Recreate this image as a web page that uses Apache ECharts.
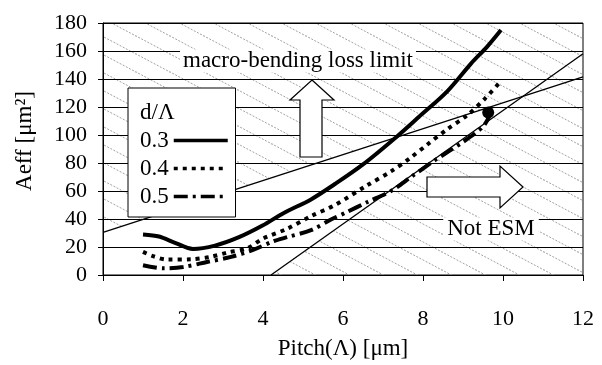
<!DOCTYPE html>
<html>
<head>
<meta charset="utf-8">
<script src="https://cdn.jsdelivr.net/npm/echarts@6/dist/echarts.min.js"></script>
<style>
html,body{margin:0;padding:0;background:#fff;}
#chart{width:602px;height:365px;}
</style>
</head>
<body>
<div id="chart"></div>
<script>
// ---- data ----
const xTicks = [0, 2, 4, 6, 8, 10, 12];
const yTicks = [0, 20, 40, 60, 80, 100, 120, 140, 160, 180];
const seriesNames = ['0.3', '0.4', '0.5'];

const pitch03 = [1.0, 1.4, 1.8, 2.25, 2.8, 3.4, 4.0, 4.5, 5.2, 5.8, 6.5, 7.35, 7.9, 8.6, 9.2, 9.6, 9.95];
const aeff03  = [29, 27.5, 23, 18.6, 21, 27, 35.5, 44, 54, 65, 79, 99, 113, 131, 151, 163, 175];

const pitch04 = [1.0, 1.25, 1.6, 2.2, 2.7, 3.1, 3.6, 4.0, 4.6, 5.2, 5.8, 6.6, 7.2, 7.7, 8.1, 8.6, 9.1, 9.55, 9.9];
const aeff04  = [16.5, 13.5, 11, 11.2, 13, 16, 19, 26, 33, 42, 50, 64, 74, 84, 93, 104, 114, 126, 137];

const pitch05 = [1.0, 1.5, 2.0, 2.6, 3.2, 3.75, 4.25, 4.6, 5.2, 5.7, 6.1, 6.6, 7.2, 7.7, 8.3, 9.0, 9.5, 9.65];
const aeff05  = [7, 4.8, 5.7, 9.3, 12.9, 17.9, 24, 27, 32, 39.6, 45, 52, 60, 70, 82, 95, 106, 113];

// limit lines
const macroX = [0, 12];
const macroY = [30.5, 141.5];
const esmX = [4.2, 12];
const esmY = [0, 158];
// marked point
const markX = [9.63];
const markY = [116];

// ---- helpers ----
const zip = (xs, ys) => xs.map((x, i) => [x, ys[i]]);
const FONT = '"Liberation Serif", "Times New Roman", serif';

function intersect() {
  const m1 = (macroY[1] - macroY[0]) / (macroX[1] - macroX[0]);
  const b1 = macroY[0] - m1 * macroX[0];
  const m2 = (esmY[1] - esmY[0]) / (esmX[1] - esmX[0]);
  const b2 = esmY[0] - m2 * esmX[0];
  const x = (b2 - b1) / (m1 - m2);
  return [x, m1 * x + b1];
}
const P = intersect();
const hatchPoly = [
  [macroX[0], macroY[0]],
  [xTicks[0], yTicks[yTicks.length - 1]],
  [xTicks[xTicks.length - 1], yTicks[yTicks.length - 1]],
  [xTicks[xTicks.length - 1], yTicks[0]],
  [esmX[0], esmY[0]],
  P
];

function makeHatch() {
  const W = 34, H = 18;
  const c = document.createElement('canvas');
  c.width = W; c.height = H;
  const g = c.getContext('2d');
  g.strokeStyle = '#a0a0a0';
  g.lineWidth = 1;
  g.setLineDash([2, 1.5]);
  for (const [dx, dy] of [[0, 0], [-W, 0], [W, 0], [0, -H], [0, H]]) {
    g.beginPath();
    g.moveTo(-4 + dx, -4 * H / W + dy);
    g.lineTo(W + 4 + dx, H + 4 * H / W + dy);
    g.stroke();
  }
  return c;
}
const hatchCanvas = makeHatch();

const chart = echarts.init(document.getElementById('chart'), null, {renderer: 'canvas'});

const curveCommon = {
  type: 'line', z: 6, symbol: 'none', symbolSize: 0, smooth: 0.3,
  itemStyle: {color: '#000', opacity: 0}
};

const option = {
  animation: false,
  backgroundColor: '#fff',
  color: ['#000'],
  textStyle: {fontFamily: FONT, color: '#000'},
  grid: {left: 103, right: 19, top: 23, bottom: 90, show: true, borderColor: '#000', borderWidth: 1, backgroundColor: '#fff'},
  legend: {
    data: seriesNames,
    orient: 'vertical',
    left: 128, top: 88,
    align: 'right',
    itemWidth: 54, itemHeight: 14, itemGap: 5,
    padding: [41, 6, 9, 12],
    backgroundColor: '#fff',
    borderColor: '#000', borderWidth: 1, borderRadius: 0,
    itemStyle: {color: 'transparent', borderWidth: 0, opacity: 0},
    lineStyle: {width: 3.5},
    textStyle: {fontFamily: FONT, fontSize: 23, color: '#000'},
    z: 10
  },
  xAxis: {
    type: 'value', min: 0, max: 12, interval: 2, z: 3,
    name: 'Pitch(Λ) [μm]', nameLocation: 'middle', nameGap: 62,
    nameTextStyle: {fontFamily: FONT, fontSize: 23, color: '#000'},
    axisLine: {show: true, lineStyle: {color: '#000', width: 1}},
    axisTick: {show: true, length: 6, lineStyle: {color: '#000'}},
    axisLabel: {fontFamily: FONT, fontSize: 22, color: '#000', margin: 33},
    splitLine: {show: false}
  },
  yAxis: [{
    type: 'value', min: 0, max: 180, interval: 20, z: 3,
    name: 'Aeff [μm²]', nameLocation: 'middle', nameGap: 67,
    nameTextStyle: {fontFamily: FONT, fontSize: 23, color: '#000', padding: [0, 0, 0, 16]},
    axisLine: {show: true, lineStyle: {color: '#000', width: 1}},
    axisTick: {show: true, length: 5, lineStyle: {color: '#000'}},
    axisLabel: {fontFamily: FONT, fontSize: 22, color: '#000', margin: 16},
    splitLine: {show: true, lineStyle: {color: '#000', width: 1}}
  }, {
    type: 'value', min: 0, max: 180, interval: 20, z: 3, position: 'left',
    axisLine: {show: false},
    axisTick: {show: true, inside: true, length: 5, lineStyle: {color: '#000'}},
    axisLabel: {show: false},
    splitLine: {show: false}
  }],
  series: [
    {
      type: 'custom', z: 2, silent: true, data: [0],
      renderItem: (params, api) => ({
        type: 'polygon',
        shape: {points: hatchPoly.map(p => api.coord(p))},
        style: {fill: {image: hatchCanvas, repeat: 'repeat'}, stroke: null}
      })
    },
    {
      name: 'macro', type: 'line', z: 4, symbol: 'none', silent: true,
      data: zip(macroX, macroY),
      lineStyle: {color: '#000', width: 1.3}
    },
    {
      name: 'esm', type: 'line', z: 4, symbol: 'none', silent: true,
      data: zip(esmX, esmY),
      lineStyle: {color: '#000', width: 1.3}
    },
    Object.assign({}, curveCommon, {
      name: '0.3',
      data: zip(pitch03, aeff03),
      lineStyle: {color: '#000', width: 4}
    }),
    Object.assign({}, curveCommon, {
      name: '0.4',
      data: zip(pitch04, aeff04),
      lineStyle: {color: '#000', width: 4, type: [4, 5]}
    }),
    Object.assign({}, curveCommon, {
      name: '0.5',
      data: zip(pitch05, aeff05),
      lineStyle: {color: '#000', width: 4, type: [14, 5, 3, 5]}
    }),
    {
      name: 'mark', type: 'scatter', z: 7, symbol: 'circle', symbolSize: 12, silent: true,
      data: zip(markX, markY),
      itemStyle: {color: '#000', opacity: 1}
    }
  ],
  graphic: [
    {
      type: 'polygon', z: 8, silent: true,
      shape: {points: [[312, 80], [334, 100], [322, 100], [322, 157], [300, 157], [300, 100], [290, 100]]},
      style: {fill: '#fff', stroke: '#000', lineWidth: 1.2}
    },
    {
      type: 'polygon', z: 8, silent: true,
      shape: {points: [[523, 187], [500, 166], [500, 177], [427, 177], [427, 197], [500, 197], [500, 208]]},
      style: {fill: '#fff', stroke: '#000', lineWidth: 1.2}
    },
    {
      type: 'text', z: 8, silent: true, x: 298, y: 61,
      style: {text: 'macro-bending loss limit', font: '23px ' + FONT, fill: '#000',
              align: 'center', verticalAlign: 'middle', backgroundColor: '#fff', padding: [0, 3]}
    },
    {
      type: 'text', z: 8, silent: true, x: 491, y: 229,
      style: {text: 'Not ESM', font: '23px ' + FONT, fill: '#000',
              align: 'center', verticalAlign: 'middle', backgroundColor: '#fff', padding: [0, 4]}
    },
    {
      type: 'text', z: 12, silent: true, x: 140, y: 113,
      style: {text: 'd/Λ', font: '23px ' + FONT, fill: '#000', align: 'left', verticalAlign: 'middle'}
    }
  ]
};
chart.setOption(option);
</script>
</body>
</html>
